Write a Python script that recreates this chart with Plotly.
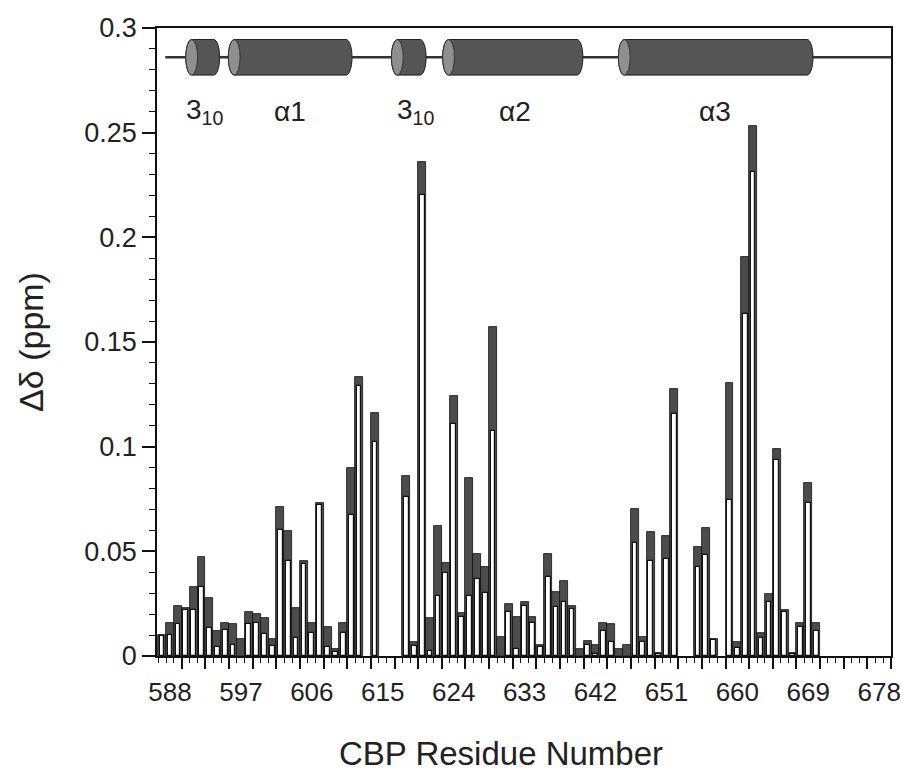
import plotly.graph_objects as go

# ---------------- data ----------------
residues = list(range(587, 671))
total_shift = [
    0.0100, 0.0159, 0.0239, 0.0228, 0.0328, 0.0471, 0.0276, 0.0119, 0.0159, 0.0151,
    0.0080, 0.0209, 0.0199, 0.0180, 0.0081, 0.0710, 0.0599, 0.0228, 0.0454, 0.0159,
    0.0730, 0.0140, 0.0032, 0.0159, 0.0897, 0.1332, None, 0.1163, None, None,
    None, 0.0860, 0.0068, 0.2359, 0.0180, 0.0623, 0.0446, 0.1244, 0.0204, 0.0849,
    0.0486, 0.0424, 0.1570, 0.0092, 0.0247, 0.0188, 0.0256, 0.0188, 0.0053, 0.0486,
    0.0307, 0.0358, 0.0239, 0.0032, 0.0073, 0.0053, 0.0159, 0.0151, 0.0033, 0.0053,
    0.0701, 0.0092, 0.0591, 0.0013, 0.0573, 0.1274, None, None, 0.0522, 0.0610,
    0.0080, None, 0.1303, 0.0068, 0.1905, 0.2532, 0.0111, 0.0296, 0.0988, 0.0220,
    0.0013, 0.0159, 0.0828, 0.0159,
]
white_shift = [
    0.0095, 0.0100, 0.0153, 0.0220, 0.0221, 0.0328, 0.0132, 0.0045, 0.0124, 0.0053,
    None, 0.0153, 0.0159, 0.0103, 0.0048, 0.0602, 0.0454, 0.0084, 0.0440, 0.0111,
    0.0720, 0.0045, 0.0020, 0.0111, 0.0674, 0.1290, None, 0.1024, None, None,
    None, 0.0761, 0.0049, 0.2203, 0.0025, 0.0287, 0.0398, 0.1107, 0.0185, 0.0287,
    0.0366, 0.0299, 0.1077, None, 0.0209, 0.0033, 0.0239, 0.0159, 0.0045, 0.0376,
    0.0233, 0.0260, 0.0223, None, 0.0053, 0.0010, 0.0121, 0.0068, None, None,
    0.0541, 0.0068, 0.0455, 0.0010, 0.0465, 0.1155, None, None, 0.0427, 0.0483,
    0.0075, None, 0.0745, 0.0037, 0.1634, 0.2314, 0.0084, 0.0260, 0.0936, 0.0210,
    0.0010, 0.0137, 0.0733, 0.0121,
]

x_tick_labels = [588, 597, 606, 615, 624, 633, 642, 651, 660, 669, 678]
x_title = "CBP Residue Number"
y_title = "Δδ (ppm)"

# secondary structure elements (residue ranges) and labels
ss_start = [590.0, 595.4, 616.1, 622.6, 644.9]
ss_end = [594.3, 611.1, 620.5, 640.4, 669.6]
ss_label = ["3<sub>10</sub>", "α1", "3<sub>10</sub>", "α2", "α3"]
ss_label_x = [592.4, 603.2, 619.2, 631.8, 657.2]
ss_line_start = 587.4
ss_level = 0.286
ss_half_height = 0.0085
ss_label_y = 0.260

X_RANGE = [586.35, 679.5]
Y_RANGE = [0, 0.3]

FONT = "Liberation Sans, Arial, Helvetica, sans-serif"
DARK = "#4c4c4c"

fig = go.Figure()

fig.add_trace(go.Bar(
    x=residues, y=total_shift, width=1.0,
    marker=dict(color=DARK, line=dict(color="#111", width=0.8)),
    name="total", showlegend=False,
))
fig.add_trace(go.Bar(
    x=residues, y=white_shift, width=0.6,
    marker=dict(color="white", line=dict(color="#111", width=1.2)),
    name="component", showlegend=False,
))

# secondary structure track
shapes = []
shapes.append(dict(type="line", xref="x", yref="y", x0=ss_line_start, x1=X_RANGE[1],
                   y0=ss_level, y1=ss_level, line=dict(color="#333", width=2.5), layer="above"))
rx = 0.75
k = 0.5523
yt = ss_level + ss_half_height
yb = ss_level - ss_half_height
ym = ss_level
hh = ss_half_height
for x0, x1 in zip(ss_start, ss_end):
    path = (
        f"M {x0+rx},{yt} L {x1-rx},{yt} "
        f"C {x1-rx+k*rx},{yt} {x1},{ym+k*hh} {x1},{ym} "
        f"C {x1},{ym-k*hh} {x1-rx+k*rx},{yb} {x1-rx},{yb} "
        f"L {x0+rx},{yb} "
        f"C {x0+rx-k*rx},{yb} {x0},{ym-k*hh} {x0},{ym} "
        f"C {x0},{ym+k*hh} {x0+rx-k*rx},{yt} {x0+rx},{yt} Z"
    )
    shapes.append(dict(type="path", xref="x", yref="y", path=path,
                       fillcolor="#555", line=dict(color="#222", width=1), layer="above"))
    shapes.append(dict(type="circle", xref="x", yref="y", x0=x0, x1=x0 + 2 * rx,
                       y0=yb, y1=yt, fillcolor="#8f8f8f",
                       line=dict(color="#333", width=1), layer="above"))

annotations = []
for lab, lx in zip(ss_label, ss_label_x):
    annotations.append(dict(x=lx, y=ss_label_y, xref="x", yref="y", text=lab,
                            showarrow=False, font=dict(family=FONT, size=28, color="#222"),
                            xanchor="center", yanchor="middle"))
# x-axis title (placed slightly left of plot centre, as in the reference)
annotations.append(dict(x=0.4687, y=-0.1560, xref="paper", yref="paper", text=x_title,
                        showarrow=False, font=dict(family=FONT, size=33, color="#222"),
                        xanchor="center", yanchor="middle"))

fig.update_layout(
    width=904, height=776,
    margin=dict(l=157, r=13, t=28, b=120),
    paper_bgcolor="white", plot_bgcolor="white",
    barmode="overlay", bargap=0,
    shapes=shapes, annotations=annotations,
    font=dict(family=FONT, color="#222"),
    xaxis=dict(
        range=X_RANGE, tickmode="array", tickvals=x_tick_labels,
        ticktext=[str(v) for v in x_tick_labels],
        ticks="outside", ticklen=12, tickcolor="rgba(0,0,0,0)",
        tickfont=dict(size=26, family=FONT, color="#222"),
        showline=True, linecolor="#111", linewidth=1.5, mirror=True,
        showgrid=False, zeroline=False,
        automargin=False,
    ),
    xaxis2=dict(
        range=X_RANGE, overlaying="x", side="bottom", anchor="y",
        tickmode="array", tickvals=[589.5 + 3 * i for i in range(31)],
        ticks="outside", ticklen=12, tickwidth=1.5, tickcolor="#111",
        showticklabels=False, showgrid=False, zeroline=False, showline=False,
        minor=dict(tickmode="array", tickvals=[586.5 + i for i in range(93)],
                   ticks="outside", ticklen=6, tickwidth=1.2, tickcolor="#111"),
        automargin=False,
    ),
    yaxis=dict(
        range=Y_RANGE, tickmode="linear", tick0=0, dtick=0.05,
        ticks="outside", ticklen=13, tickwidth=1.5, tickcolor="#111",
        minor=dict(dtick=0.01, ticks="outside", ticklen=6, tickwidth=1.2, tickcolor="#111"),
        tickfont=dict(size=27, family=FONT, color="#222"),
        showline=True, linecolor="#111", linewidth=1.5, mirror=True,
        showgrid=False, zeroline=False,
        title=dict(text=y_title, font=dict(size=34, family=FONT, color="#222"), standoff=30),
        automargin=False,
    ),
)

# dummy trace to activate xaxis2 ticks
fig.add_trace(go.Scatter(x=[X_RANGE[0]], y=[None], xaxis="x2", yaxis="y",
                         mode="markers", showlegend=False, hoverinfo="skip"))

fig.write_html("out.html")
